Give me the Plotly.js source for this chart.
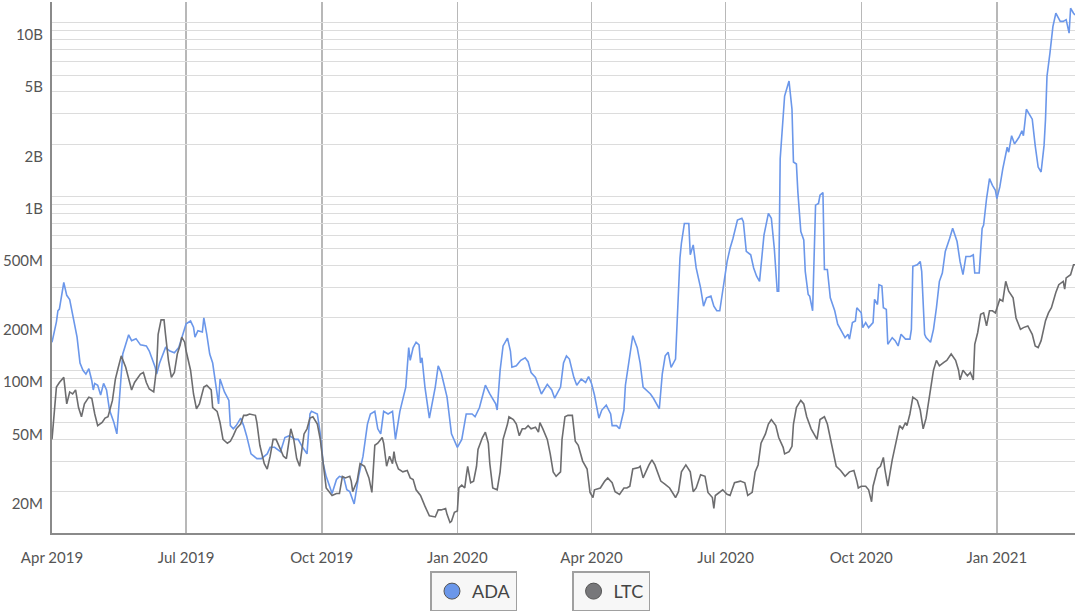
<!DOCTYPE html>
<html>
<head>
<meta charset="utf-8">
<script src="https://cdn.plot.ly/plotly-3.0.1.min.js"></script>
<style>
html,body{margin:0;padding:0;background:#fff;}
#chart{width:1080px;height:613px;}
</style>
</head>
<body>
<div id="chart"></div>
<script>
// ADA daily volume (USD, millions)
var adaDates = ['2019-04-01','2019-04-04','2019-04-05','2019-04-06','2019-04-09','2019-04-11','2019-04-13','2019-04-15','2019-04-18','2019-04-20','2019-04-22','2019-04-24','2019-04-26','2019-04-28','2019-04-29','2019-04-30','2019-05-02','2019-05-04','2019-05-06','2019-05-08','2019-05-10','2019-05-13','2019-05-15','2019-05-17','2019-05-19','2019-05-23','2019-05-25','2019-05-28','2019-05-31','2019-06-04','2019-06-06','2019-06-10','2019-06-11','2019-06-13','2019-06-17','2019-06-20','2019-06-23','2019-06-26','2019-06-28','2019-07-01','2019-07-04','2019-07-06','2019-07-07','2019-07-09','2019-07-12','2019-07-13','2019-07-15','2019-07-17','2019-07-19','2019-07-22','2019-07-23','2019-07-24','2019-07-27','2019-07-30','2019-07-31','2019-08-02','2019-08-04','2019-08-07','2019-08-09','2019-08-11','2019-08-14','2019-08-18','2019-08-21','2019-08-25','2019-08-27','2019-08-30','2019-09-03','2019-09-06','2019-09-09','2019-09-13','2019-09-15','2019-09-18','2019-09-21','2019-09-23','2019-09-24','2019-09-28','2019-09-30','2019-10-02','2019-10-04','2019-10-08','2019-10-11','2019-10-13','2019-10-16','2019-10-18','2019-10-20','2019-10-23','2019-10-26','2019-10-29','2019-11-01','2019-11-03','2019-11-06','2019-11-08','2019-11-10','2019-11-12','2019-11-15','2019-11-18','2019-11-20','2019-11-23','2019-11-27','2019-11-29','2019-11-30','2019-12-02','2019-12-04','2019-12-06','2019-12-07','2019-12-08','2019-12-10','2019-12-13','2019-12-17','2019-12-19','2019-12-21','2019-12-25','2019-12-28','2020-01-01','2020-01-04','2020-01-07','2020-01-11','2020-01-13','2020-01-16','2020-01-20','2020-01-23','2020-01-27','2020-01-28','2020-01-30','2020-02-01','2020-02-04','2020-02-06','2020-02-07','2020-02-10','2020-02-13','2020-02-16','2020-02-18','2020-02-20','2020-02-23','2020-02-25','2020-02-27','2020-03-02','2020-03-05','2020-03-07','2020-03-11','2020-03-13','2020-03-15','2020-03-17','2020-03-20','2020-03-22','2020-03-25','2020-03-28','2020-03-30','2020-04-01','2020-04-03','2020-04-06','2020-04-08','2020-04-11','2020-04-14','2020-04-15','2020-04-18','2020-04-20','2020-04-22','2020-04-23','2020-04-24','2020-04-27','2020-04-29','2020-05-02','2020-05-04','2020-05-06','2020-05-08','2020-05-11','2020-05-13','2020-05-17','2020-05-19','2020-05-21','2020-05-23','2020-05-25','2020-05-28','2020-05-29','2020-05-31','2020-06-01','2020-06-03','2020-06-06','2020-06-07','2020-06-09','2020-06-11','2020-06-14','2020-06-16','2020-06-18','2020-06-21','2020-06-23','2020-06-25','2020-06-27','2020-06-29','2020-07-02','2020-07-04','2020-07-06','2020-07-09','2020-07-12','2020-07-13','2020-07-15','2020-07-18','2020-07-20','2020-07-22','2020-07-24','2020-07-27','2020-07-30','2020-08-01','2020-08-03','2020-08-05','2020-08-06','2020-08-07','2020-08-09','2020-08-10','2020-08-12','2020-08-13','2020-08-15','2020-08-16','2020-08-18','2020-08-19','2020-08-21','2020-08-23','2020-08-24','2020-08-26','2020-08-27','2020-08-29','2020-08-31','2020-09-02','2020-09-03','2020-09-05','2020-09-06','2020-09-08','2020-09-10','2020-09-13','2020-09-15','2020-09-18','2020-09-20','2020-09-22','2020-09-23','2020-09-25','2020-09-27','2020-09-28','2020-10-01','2020-10-02','2020-10-04','2020-10-06','2020-10-08','2020-10-09','2020-10-10','2020-10-12','2020-10-13','2020-10-15','2020-10-16','2020-10-18','2020-10-19','2020-10-22','2020-10-24','2020-10-26','2020-10-28','2020-10-31','2020-11-03','2020-11-04','2020-11-05','2020-11-08','2020-11-10','2020-11-11','2020-11-13','2020-11-14','2020-11-17','2020-11-19','2020-11-21','2020-11-23','2020-11-25','2020-11-27','2020-11-30','2020-12-02','2020-12-05','2020-12-07','2020-12-09','2020-12-11','2020-12-14','2020-12-16','2020-12-17','2020-12-20','2020-12-22','2020-12-23','2020-12-25','2020-12-27','2020-12-29','2020-12-31','2021-01-01','2021-01-03','2021-01-05','2021-01-08','2021-01-09','2021-01-11','2021-01-13','2021-01-16','2021-01-18','2021-01-19','2021-01-21','2021-01-25','2021-01-27','2021-01-29','2021-01-31','2021-02-02','2021-02-03','2021-02-04','2021-02-06','2021-02-08','2021-02-10','2021-02-13','2021-02-15','2021-02-17','2021-02-19','2021-02-20','2021-02-22','2021-02-23'];
var adaVolM = [145,190,220,225,320,270,255,210,155,110,100,95,102,87,77,84,82,72,84,77,59,50,43,73,124,160,148,152,140,138,129,104,95,110,135,129,126,135,155,185,192,177,155,169,166,200,161,124,110,70,64,89,75,67,48,46,48,53,48,42,33,31,31,33,36,36,34,41,42,40,40,36,33,56,58,56,43,29,24.5,19.5,23.5,24.5,24,20.5,20,17,24.5,32,49,56,58,46,43,58,56,58,40,58,80,135,114,135,145,140,110,118,80,53,80,106,97,70,43,36,40,56,56,54,61,82,73,64,59,100,138,153,129,104,106,114,118,112,97,91,82,73,83,77,69,80,110,121,116,91,82,89,85,92,84,72,53,59,63,56,48,48,46,55,59,82,127,158,135,110,80,77,73,69,60,95,121,127,104,116,184,443,540,700,700,462,527,388,298,234,261,267,234,220,220,293,423,504,575,732,749,717,483,462,388,348,325,600,800,750,504,285,285,1650,3180,3790,4330,4620,3180,1580,1540,1060,628,563,371,273,267,220,892,912,1017,1054,380,380,261,220,184,165,154,161,151,188,192,229,214,176,188,176,184,188,256,239,311,305,229,224,141,154,148,138,161,151,151,172,397,405,423,371,161,154,145,172,229,325,363,483,575,656,551,423,355,452,452,462,363,363,656,686,974,1267,1160,1087,974,1136,1445,1922,1800,2240,2009,2195,2393,2240,3180,2790,1963,1478,1384,1963,2790,4930,6700,9520,11360,10190,10190,10430,8730,12130,11360,11100];

// LTC daily volume (USD, millions)
var ltcDates = ['2019-04-01','2019-04-03','2019-04-04','2019-04-06','2019-04-09','2019-04-11','2019-04-13','2019-04-15','2019-04-17','2019-04-19','2019-04-21','2019-04-23','2019-04-26','2019-04-28','2019-04-30','2019-05-02','2019-05-05','2019-05-07','2019-05-09','2019-05-12','2019-05-14','2019-05-16','2019-05-18','2019-05-21','2019-05-23','2019-05-25','2019-05-27','2019-05-31','2019-06-02','2019-06-04','2019-06-06','2019-06-09','2019-06-11','2019-06-12','2019-06-14','2019-06-16','2019-06-17','2019-06-19','2019-06-21','2019-06-23','2019-06-25','2019-06-27','2019-06-28','2019-06-30','2019-07-01','2019-07-04','2019-07-06','2019-07-08','2019-07-10','2019-07-13','2019-07-15','2019-07-18','2019-07-19','2019-07-22','2019-07-24','2019-07-26','2019-07-29','2019-07-31','2019-08-02','2019-08-04','2019-08-07','2019-08-09','2019-08-11','2019-08-13','2019-08-17','2019-08-18','2019-08-20','2019-08-23','2019-08-25','2019-08-27','2019-08-29','2019-08-31','2019-09-03','2019-09-05','2019-09-07','2019-09-10','2019-09-12','2019-09-14','2019-09-16','2019-09-19','2019-09-21','2019-09-23','2019-09-25','2019-09-28','2019-09-30','2019-10-02','2019-10-04','2019-10-08','2019-10-11','2019-10-13','2019-10-15','2019-10-17','2019-10-20','2019-10-21','2019-10-22','2019-10-25','2019-10-27','2019-10-30','2019-11-02','2019-11-04','2019-11-05','2019-11-06','2019-11-08','2019-11-11','2019-11-12','2019-11-14','2019-11-15','2019-11-16','2019-11-18','2019-11-19','2019-11-20','2019-11-22','2019-11-25','2019-11-28','2019-11-30','2019-12-02','2019-12-04','2019-12-07','2019-12-10','2019-12-13','2019-12-17','2019-12-19','2019-12-21','2019-12-24','2019-12-25','2019-12-27','2019-12-28','2019-12-30','2020-01-01','2020-01-02','2020-01-04','2020-01-06','2020-01-07','2020-01-08','2020-01-10','2020-01-12','2020-01-14','2020-01-15','2020-01-18','2020-01-20','2020-01-22','2020-01-23','2020-01-25','2020-01-28','2020-01-30','2020-02-01','2020-02-04','2020-02-05','2020-02-08','2020-02-10','2020-02-12','2020-02-14','2020-02-16','2020-02-18','2020-02-20','2020-02-23','2020-02-25','2020-02-26','2020-02-28','2020-03-02','2020-03-04','2020-03-06','2020-03-08','2020-03-11','2020-03-12','2020-03-14','2020-03-16','2020-03-19','2020-03-21','2020-03-23','2020-03-26','2020-03-29','2020-03-31','2020-04-02','2020-04-03','2020-04-07','2020-04-10','2020-04-12','2020-04-15','2020-04-17','2020-04-20','2020-04-23','2020-04-25','2020-04-27','2020-04-29','2020-05-03','2020-05-04','2020-05-06','2020-05-10','2020-05-12','2020-05-14','2020-05-18','2020-05-21','2020-05-24','2020-05-28','2020-05-30','2020-06-01','2020-06-04','2020-06-07','2020-06-09','2020-06-11','2020-06-14','2020-06-17','2020-06-19','2020-06-22','2020-06-23','2020-06-24','2020-06-27','2020-06-29','2020-07-02','2020-07-04','2020-07-07','2020-07-11','2020-07-14','2020-07-16','2020-07-19','2020-07-21','2020-07-23','2020-07-25','2020-07-28','2020-07-30','2020-08-01','2020-08-04','2020-08-06','2020-08-09','2020-08-10','2020-08-13','2020-08-15','2020-08-16','2020-08-18','2020-08-21','2020-08-23','2020-08-25','2020-08-28','2020-08-30','2020-09-01','2020-09-03','2020-09-06','2020-09-08','2020-09-10','2020-09-12','2020-09-14','2020-09-17','2020-09-20','2020-09-23','2020-09-26','2020-09-28','2020-09-29','2020-10-01','2020-10-04','2020-10-06','2020-10-08','2020-10-09','2020-10-12','2020-10-14','2020-10-16','2020-10-17','2020-10-19','2020-10-22','2020-10-24','2020-10-27','2020-10-29','2020-10-31','2020-11-01','2020-11-03','2020-11-05','2020-11-08','2020-11-10','2020-11-12','2020-11-14','2020-11-17','2020-11-19','2020-11-21','2020-11-23','2020-11-26','2020-11-28','2020-12-01','2020-12-04','2020-12-06','2020-12-07','2020-12-09','2020-12-12','2020-12-14','2020-12-16','2020-12-17','2020-12-19','2020-12-21','2020-12-23','2020-12-25','2020-12-27','2020-12-29','2020-12-31','2021-01-03','2021-01-05','2021-01-07','2021-01-09','2021-01-12','2021-01-14','2021-01-17','2021-01-19','2021-01-22','2021-01-25','2021-01-27','2021-01-29','2021-01-31','2021-02-03','2021-02-05','2021-02-07','2021-02-10','2021-02-12','2021-02-15','2021-02-16','2021-02-17','2021-02-20','2021-02-22','2021-02-23'];
var ltcVolM = [40,61,80,85,91,64,75,73,77,61,54,64,70,69,56,48,50,53,54,67,89,104,121,104,91,77,85,95,97,85,78,75,104,161,195,195,161,114,91,97,124,140,155,145,129,100,73,60,64,80,82,77,61,58,50,40,38,39,42,46,49,55,55,56,55,50,37,29,27,32,40,40,35,32,31,46,40,31,28,43,46,53,54,49,40,29,21,19,19.5,19.5,24.5,24,24.5,23,20,23,29,28,24,19.8,28,37,38,41,38,28,30,32,29,34,30,27,26,26.5,24,23.5,20.5,19,16.5,14.5,14.3,15.7,15.7,16,14.8,13.3,13.5,15.2,15.5,21,21.8,21,24.5,28,22.5,23,28,35,41,44,38,29,21,20.5,26,40,49,54,52,49,42,46,46,48,46,47,44,50,46,40,33,26,24.5,26,40,54,55,55,39,37,30,27,19.8,18.5,20.5,21,23,24,22.5,20,19.3,21,21,21.5,27,27.5,28,24,28.5,30.5,28.5,23,22,21,18.5,20,26,28.5,26,20,21,25,24.5,19.8,18.5,16,19,19.8,20.5,19.3,19,22.5,23,22.5,19,19.8,26,28.5,38,43,49,52,48,41,36,33,34,36.5,49,61,67,64,54,46,43,40,52,54,49,41,33,28,26.5,24.5,26,26.5,23,21,21.5,21.5,20.5,17.5,21.5,27,28,31.5,27,21.5,30.5,36.5,48,46,50,48,56,70,67,59,46,53,80,100,114,106,111,114,124,114,100,88,100,93,97,88,141,165,210,214,180,220,220,214,256,250,325,285,261,200,172,176,180,161,138,135,148,193,214,229,280,311,325,293,340,355,405,405];

var seriesNames = ['ADA', 'LTC'];
var seriesColors = ['#6b97ea', '#6d6d6f'];

// axis ticks
var xTickVals = ['2019-04-01','2019-07-01','2019-10-01','2020-01-01','2020-04-01','2020-07-01','2020-10-01','2021-01-01'];
var xTickText = ['Apr 2019','Jul 2019','Oct 2019','Jan 2020','Apr 2020','Jul 2020','Oct 2020','Jan 2021'];
var yTickVals = [2e7,3e7,4e7,5e7,6e7,7e7,8e7,9e7,1e8,2e8,3e8,4e8,5e8,6e8,7e8,8e8,9e8,1e9,2e9,3e9,4e9,5e9,6e9,7e9,8e9,9e9,1e10];
var yTickText = ['20M','','','50M','','','','','100M','200M','','','500M','','','','','1B','2B','','','5B','','','','','10B'];

function toUSD(arr){ return arr.map(function(v){ return v * 1e6; }); }

var traces = [
  {x: adaDates, y: toUSD(adaVolM), type: 'scatter', mode: 'lines', name: seriesNames[0],
   line: {color: seriesColors[0], width: 1.6}, showlegend: false, hoverinfo: 'x+y'},
  {x: ltcDates, y: toUSD(ltcVolM), type: 'scatter', mode: 'lines', name: seriesNames[1],
   line: {color: seriesColors[1], width: 1.6}, showlegend: false, hoverinfo: 'x+y'},
  {x: [null], y: [null], type: 'scatter', mode: 'markers', name: seriesNames[0], legend: 'legend',
   marker: {symbol: 'circle', size: 18, color: seriesColors[0], line: {color: '#555', width: 1}}},
  {x: [null], y: [null], type: 'scatter', mode: 'markers', name: seriesNames[1], legend: 'legend2',
   marker: {symbol: 'circle', size: 18, color: '#77777a', line: {color: '#555', width: 1}}}
];

var legendBase = {
  orientation: 'h', bgcolor: '#f7f7f7', bordercolor: '#a0a0a0', borderwidth: 1.5,
  font: {family: 'Lato, sans-serif', size: 18, color: '#444'},
  xanchor: 'center', yanchor: 'middle', itemwidth: 30
};

var layout = {
  width: 1080, height: 613,
  margin: {l: 52, r: 5, t: 2, b: 76},
  paper_bgcolor: '#ffffff', plot_bgcolor: '#ffffff',
  font: {family: 'Lato, sans-serif', color: '#555'},
  xaxis: {
    type: 'date', range: ['2019-04-01', '2021-02-23'],
    tickvals: xTickVals, ticktext: xTickText,
    showgrid: true, gridcolor: '#b8b8b8', gridwidth: 1.5,
    showline: true, linecolor: '#8a8a8a', linewidth: 2,
    ticks: '', ticklabelstandoff: 10,
    tickfont: {family: 'Lato, sans-serif', size: 15, color: '#555'},
    zeroline: false
  },
  yaxis: {
    type: 'log', range: [7.063, 10.12],
    tickvals: yTickVals, ticktext: yTickText,
    showgrid: true, gridcolor: '#dcdcdc', gridwidth: 1,
    showline: true, linecolor: '#8a8a8a', linewidth: 2,
    ticks: '', ticklabelshift: 12, ticklabelstandoff: 4,
    tickfont: {family: 'Lato, sans-serif', size: 15, color: '#555'},
    zeroline: false
  },
  legend: Object.assign({}, legendBase, {x: 0.4125, y: -0.11}),
  legend2: Object.assign({}, legendBase, {x: 0.5465, y: -0.11}),
  showlegend: true
};

Plotly.newPlot('chart', traces, layout, {displayModeBar: false, staticPlot: true});
</script>
</body>
</html>
